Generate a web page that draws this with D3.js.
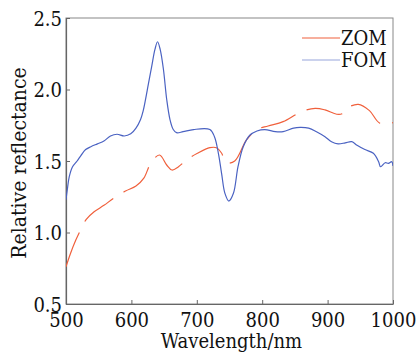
<!DOCTYPE html>
<html>
<head>
<meta charset="utf-8">
<script src="https://cdn.jsdelivr.net/npm/d3@7"></script>
<style>
  body { margin: 0; background: #fff; }
  svg { display: block; }
  svg text { font-family: "DejaVu Serif Condensed", "DejaVu Serif", serif; font-stretch: condensed; fill: #111; }
</style>
</head>
<body>
<svg id="chart" width="416" height="352"></svg>
<script>
// wavelength (nm) and relative reflectance
var fomX = [500, 502, 505, 510, 517, 523, 530, 538, 548, 558, 568, 578, 589, 599, 607, 614, 618, 622, 626, 631, 636, 640, 644, 649, 654, 659, 664, 669, 679, 695, 720, 727, 733, 738, 743, 749, 756, 763, 771, 781, 792, 804, 820, 832, 848, 858, 871, 883, 896, 906, 916, 927, 937, 945, 957, 970, 978, 981, 988, 993, 998, 1000];
var fomY = [1.23, 1.30, 1.39, 1.46, 1.50, 1.54, 1.58, 1.60, 1.62, 1.64, 1.675, 1.687, 1.675, 1.69, 1.73, 1.79, 1.85, 1.94, 2.04, 2.16, 2.28, 2.334, 2.28, 2.14, 1.93, 1.79, 1.72, 1.698, 1.705, 1.72, 1.72, 1.67, 1.554, 1.41, 1.274, 1.22, 1.274, 1.46, 1.60, 1.68, 1.71, 1.72, 1.705, 1.705, 1.73, 1.735, 1.73, 1.705, 1.67, 1.635, 1.62, 1.627, 1.635, 1.61, 1.58, 1.554, 1.495, 1.46, 1.488, 1.484, 1.495, 1.465];

var zomX = [500, 507, 515, 521, 531, 543, 558, 573, 591, 607, 619, 630, 643, 654, 662, 672, 685, 701, 720, 730, 738, 744, 758, 776, 792, 809, 832, 860, 881, 896, 914, 922, 929, 947, 964, 980, 1000];
var zomY = [0.76, 0.855, 0.947, 1.006, 1.092, 1.145, 1.19, 1.24, 1.29, 1.325, 1.38, 1.488, 1.542, 1.472, 1.437, 1.46, 1.51, 1.554, 1.593, 1.593, 1.554, 1.488, 1.50, 1.647, 1.72, 1.745, 1.775, 1.845, 1.868, 1.857, 1.827, 1.83, 1.868, 1.896, 1.852, 1.764, 1.768];

var xTicks = [500, 600, 700, 800, 900, 1000];
var yTicks = [0.5, 1.0, 1.5, 2.0, 2.5];
var seriesNames = ["ZOM", "FOM"];

var red = "#f0603c", blue = "#4a62c2", axisColor = "#666";
var serif = "DejaVu Serif Condensed, DejaVu Serif, serif";

var svg = d3.select("#chart");
var m = { left: 66, right: 393, top: 18, bottom: 304 };

var x = d3.scaleLinear().domain([500, 1000]).range([m.left, m.right]);
var y = d3.scaleLinear().domain([0.5, 2.5]).range([m.bottom, m.top]);

svg.append("defs").append("clipPath").attr("id", "plot")
  .append("rect").attr("x", m.left).attr("y", m.top)
  .attr("width", m.right - m.left).attr("height", m.bottom - m.top);

// frame
svg.append("rect")
  .attr("x", m.left).attr("y", m.top)
  .attr("width", m.right - m.left).attr("height", m.bottom - m.top)
  .attr("fill", "none").attr("stroke", "#888").attr("stroke-width", 1);

var xAxis = svg.append("g")
  .attr("transform", "translate(0," + m.bottom + ")")
  .call(d3.axisBottom(x).tickValues(xTicks).tickSizeInner(-4).tickSizeOuter(0).tickPadding(9).tickFormat(d3.format("d")));
var yAxis = svg.append("g")
  .attr("transform", "translate(" + m.left + ",0)")
  .call(d3.axisLeft(y).tickValues(yTicks).tickSizeInner(-4).tickSizeOuter(0).tickPadding(4).tickFormat(d3.format(".1f")));

[xAxis, yAxis].forEach(function(g) {
  g.attr("font-family", serif);
  g.select(".domain").attr("stroke", axisColor).attr("stroke-width", 1.2);
  g.selectAll(".tick line").attr("stroke", axisColor);
  g.selectAll(".tick text")
    .attr("font-size", 20).attr("fill", "#111");
});
yAxis.selectAll(".tick text").attr("dy", "0.36em");

function line(xs, ys) {
  return d3.line()
    .x(function(d, i) { return x(xs[i]); })
    .y(function(d, i) { return y(ys[i]); })
    .curve(d3.curveCatmullRom.alpha(0.5))(xs);
}

var plot = svg.append("g").attr("clip-path", "url(#plot)");

plot.append("path")
  .attr("d", line(zomX, zomY))
  .attr("fill", "none").attr("stroke", red).attr("stroke-width", 1.2)
  .attr("stroke-dasharray", "37,12");

plot.append("path")
  .attr("d", line(fomX, fomY))
  .attr("fill", "none").attr("stroke", blue).attr("stroke-width", 1.2);

// legend
var legend = svg.append("g");
seriesNames.forEach(function(name, i) {
  var ly = 38 + i * 22;
  legend.append("line")
    .attr("x1", 302).attr("x2", 340).attr("y1", ly).attr("y2", ly)
    .attr("stroke", i === 0 ? red : "#98a6dc").attr("stroke-width", 1.2);
  legend.append("text")
    .attr("x", 341).attr("y", ly + 7)
    .attr("font-size", 20)
    .text(name);
});

// axis titles
svg.append("text")
  .attr("x", (m.left + m.right) / 2 + 2).attr("y", 348)
  .attr("text-anchor", "middle")
  .attr("font-size", 20)
  .text("Wavelength/nm");

svg.append("text")
  .attr("transform", "translate(26,163) rotate(-90)")
  .attr("text-anchor", "middle")
  .attr("font-size", 21)
  .text("Relative reflectance");
</script>
</body>
</html>
